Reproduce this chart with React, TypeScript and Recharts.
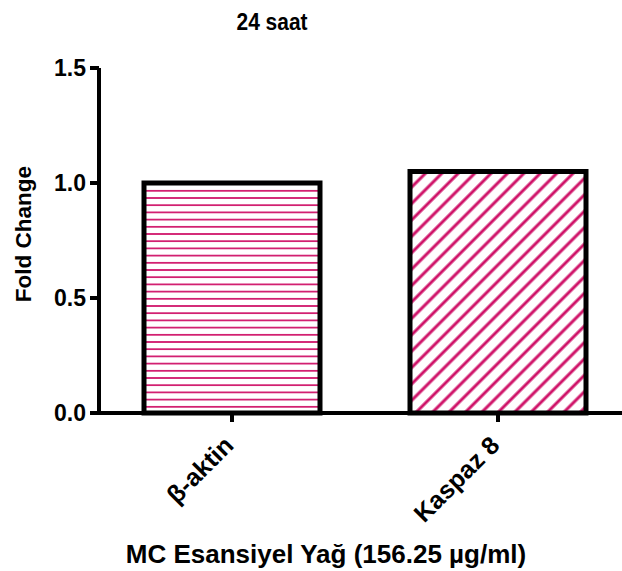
import { BarChart, Bar, XAxis, YAxis } from 'recharts';

const genes = ['β-aktin', 'Kaspaz 8'];
const foldChange = [1.0, 1.05];
const yTicks = [0, 0.5, 1.0, 1.5];
const patterns = ['url(#hLines)', 'url(#dLines)'];

const data = genes.map((g, i) => ({ gene: g, value: foldChange[i], fill: patterns[i] }));

const PINK = '#cf1268';
const FONT = '"Liberation Sans", Arial, sans-serif';

const XTick = (props: any) => {
  const { x, y, payload } = props;
  const ax = x + 3;
  const ay = y + 23;
  return (
    <text
      x={ax}
      y={ay}
      transform={`rotate(-45, ${ax}, ${ay})`}
      textAnchor="end"
      fontFamily={FONT}
      fontWeight="bold"
      fontSize={25}
      fill="#000"
    >
      {payload.value}
    </text>
  );
};

export default function App() {
  return (
    <div style={{ position: 'absolute', left: 0, top: 0, width: 622, height: 571, overflow: 'hidden', background: '#fff' }}>
      <BarChart
        width={631}
        height={571}
        data={data}
        margin={{ top: 68, right: 0, bottom: 128, left: 0 }}
        barSize={176}
      >
        <defs>
          <pattern id="hLines" patternUnits="userSpaceOnUse" width={10} height={7.2}>
            <rect width={10} height={7.2} fill="#fff" />
            <line x1={0} y1={3.6} x2={10} y2={3.6} stroke={PINK} strokeWidth={1.7} />
          </pattern>
          <pattern
            id="dLines"
            patternUnits="userSpaceOnUse"
            width={11.6}
            height={11.6}
            patternTransform="rotate(45)"
          >
            <rect width={11.6} height={11.6} fill="#fff" />
            <line x1={5.8} y1={0} x2={5.8} y2={11.6} stroke={PINK} strokeWidth={3} />
          </pattern>
        </defs>
        <XAxis
          dataKey="gene"
          height={30}
          stroke="#000"
          strokeWidth={4}
          tickSize={9}
          tick={<XTick />}
          interval={0}
        />
        <YAxis
          domain={[0, 1.5]}
          ticks={yTicks}
          width={99}
          stroke="#000"
          strokeWidth={4}
          tickSize={9}
          tickMargin={4}
          tickFormatter={(v) => Number(v).toFixed(1)}
          tick={{ fill: '#000', fontFamily: FONT, fontWeight: 'bold', fontSize: 23 }}
        />
        <Bar dataKey="value" stroke="#000" strokeWidth={5} isAnimationActive={false} />
      </BarChart>
      <svg width={622} height={571} style={{ position: 'absolute', left: 0, top: 0, pointerEvents: 'none' }}>
        <text x={272} y={30} textAnchor="middle" fontFamily={FONT} fontWeight="bold" fontSize={23} textLength={71} lengthAdjust="spacingAndGlyphs">
          24 saat
        </text>
        <text
          x={31}
          y={234}
          transform="rotate(-90, 31, 234)"
          textAnchor="middle"
          fontFamily={FONT}
          fontWeight="bold"
          fontSize={22.5}
        >
          Fold Change
        </text>
        <text x={326} y={563} textAnchor="middle" fontFamily={FONT} fontWeight="bold" fontSize={26}>
          MC Esansiyel Yağ (156.25 µg/ml)
        </text>
      </svg>
    </div>
  );
}
